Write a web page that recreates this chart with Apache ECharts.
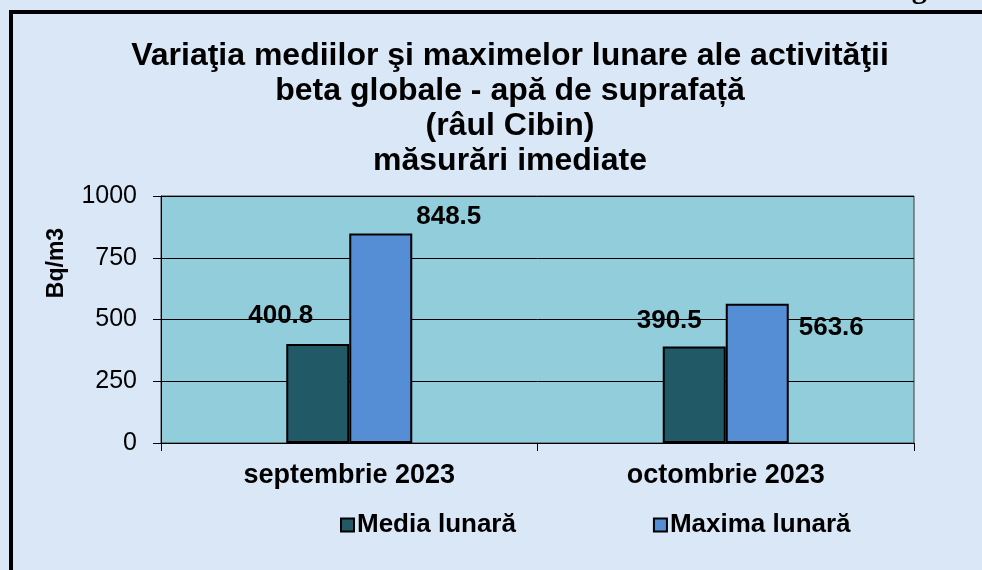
<!DOCTYPE html>
<html>
<head>
<meta charset="utf-8">
<script src="https://cdn.jsdelivr.net/npm/echarts@6/dist/echarts.min.js"></script>
<style>
html,body{margin:0;padding:0;background:#dae7f6;}
#chart{width:982px;height:570px;}
</style>
</head>
<body>
<div id="chart"></div>
<script>
const titleText = "Variaţia mediilor şi maximelor lunare ale activităţii\nbeta globale - apă de suprafață\n(râul Cibin)\nmăsurări imediate";
const categories = ["septembrie 2023", "octombrie 2023"];
const seriesNames = ["Media lunară", "Maxima lunară"];
const mediaValues = [400.8, 390.5];
const maximaValues = [848.5, 563.6];
const yTicks = [0, 250, 500, 750, 1000];
const yAxisName = "Bq/m3";
const figLabel = "Fig. II";

const mediaLabelOffsets = [[-37, -10], [-25, -8]];
const maximaLabelOffsets = [[68, 1], [74, 42]];

const FONT = "'Liberation Sans', Arial, sans-serif";
const chart = echarts.init(document.getElementById('chart'));

function withOffsets(vals, offs) {
  return vals.map((v, i) => ({ value: v, label: { offset: offs[i] } }));
}

chart.setOption({
  backgroundColor: '#dae7f6',
  animation: false,
  title: {
    text: titleText,
    left: 505,
    top: 34,
    textAlign: 'center',
    textStyle: { fontFamily: FONT, fontWeight: 'bold', fontSize: 32, lineHeight: 35, color: '#000' }
  },
  graphic: [
    { type: 'rect', shape: { x: 11, y: 12, width: 1000, height: 600 }, style: { fill: 'none', stroke: '#000', lineWidth: 4 }, silent: true },
    { type: 'text', left: 885, top: -25, style: { text: figLabel, font: "bold 30px 'Liberation Serif', 'Times New Roman', serif", fill: '#000' } },
    { type: 'text', x: 57, y: 263, rotation: Math.PI / 2, style: { text: yAxisName, font: "bold 23px " + FONT, fill: '#000', align: 'center', verticalAlign: 'middle' } }
  ],
  legend: {
    data: seriesNames,
    left: 340,
    top: 512,
    padding: 0,
    itemWidth: 13,
    itemHeight: 13,
    itemGap: 137,
    icon: 'rect',
    textStyle: { fontFamily: FONT, fontWeight: 'bold', fontSize: 26, color: '#000', padding: [0, 0, 0, -2] }
  },
  grid: {
    left: 161, right: 68, top: 196, bottom: 127,
    show: true, backgroundColor: '#92cddc', borderColor: '#3a3a3a', borderWidth: 1
  },
  xAxis: {
    type: 'category',
    data: categories,
    axisLine: { lineStyle: { color: '#000', width: 1 } },
    axisTick: { show: true, length: 8, lineStyle: { color: '#000' } },
    axisLabel: { fontFamily: FONT, fontWeight: 'bold', fontSize: 27, color: '#000', margin: 19 }
  },
  yAxis: {
    type: 'value',
    min: yTicks[0], max: yTicks[yTicks.length - 1], interval: yTicks[1] - yTicks[0],
    axisLine: { show: true, lineStyle: { color: '#000', width: 1 } },
    axisTick: { show: true, length: 8, lineStyle: { color: '#000' } },
    splitLine: { lineStyle: { color: '#000', width: 1 } },
    axisLabel: { fontFamily: FONT, fontSize: 25, color: '#000', margin: 24, formatter: v => String(v) }
  },
  series: [
    {
      name: seriesNames[0], type: 'bar', barWidth: 63, barGap: '0%',
      data: withOffsets(mediaValues, mediaLabelOffsets),
      itemStyle: { color: '#215967', borderColor: '#000', borderWidth: 2 },
      label: { show: true, position: 'top', fontFamily: FONT, fontWeight: 'bold', fontSize: 26, color: '#000' }
    },
    {
      name: seriesNames[1], type: 'bar', barWidth: 63,
      data: withOffsets(maximaValues, maximaLabelOffsets),
      itemStyle: { color: '#558ed5', borderColor: '#000', borderWidth: 2 },
      label: { show: true, position: 'top', fontFamily: FONT, fontWeight: 'bold', fontSize: 26, color: '#000' }
    }
  ]
});
</script>
</body>
</html>
